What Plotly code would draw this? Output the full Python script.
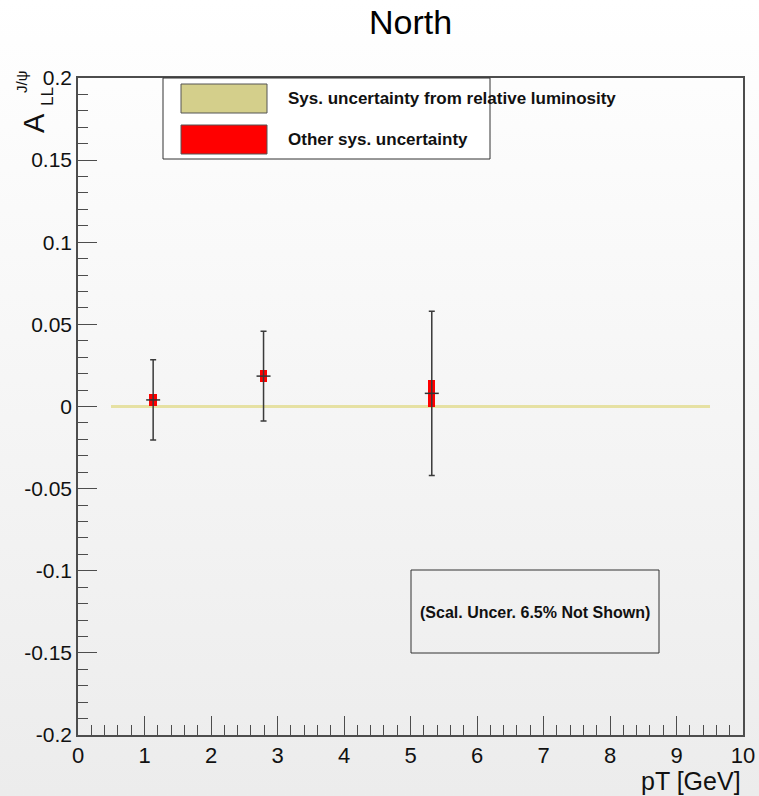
import base64
import plotly.graph_objects as go

# ---------------- data ----------------
pt = [1.13, 2.79, 5.32]                 # bin centres [GeV]
all_val = [0.004, 0.0185, 0.008]         # A_LL^{J/psi}
stat_err = [0.0244, 0.0273, 0.050]       # statistical errors
other_sys = [0.0037, 0.0037, 0.008]      # other systematic uncertainty (half width)
lumi_range = [0.5, 9.5]                  # pT extent of relative-luminosity band
lumi_sys = 0.0012                        # relative luminosity systematic (half width)

x_ticks = [0, 1, 2, 3, 4, 5, 6, 7, 8, 9, 10]
x_tick_labels = ["0", "1", "2", "3", "4", "5", "6", "7", "8", "9", "10"]
y_ticks = [-0.2, -0.15, -0.1, -0.05, 0, 0.05, 0.1, 0.15, 0.2]
y_tick_labels = ["-0.2", "-0.15", "-0.1", "-0.05", "0", "0.05", "0.1", "0.15", "0.2"]

legend_labels = ["Sys. uncertainty from relative luminosity", "Other sys. uncertainty"]
note_text = "(Scal. Uncer. 6.5% Not Shown)"
title_text = "North"

# ---------------- geometry helpers (pixels -> paper) ----------------
W, H = 759, 796
L, R, T, B = 78, 16, 78, 61
PW, PH = W - L - R, H - T - B


def px(x):
    return (x - L) / PW


def py(y):
    return 1 - (y - T) / PH


FONT = "Liberation Sans, Arial, Helvetica, sans-serif"
LUMI_COLOR = "#e6e1a3"
LUMI_LEG = "#d4cf8b"
RED = "#ff0000"
FRAME = "#4d4d4d"

fig = go.Figure()

# luminosity band
fig.add_trace(go.Bar(
    x=[(lumi_range[0] + lumi_range[1]) / 2],
    y=[2 * lumi_sys],
    base=[-lumi_sys],
    width=[lumi_range[1] - lumi_range[0]],
    marker=dict(color=LUMI_COLOR, line=dict(width=0)),
    showlegend=False, hoverinfo="skip",
))

# other systematics boxes
fig.add_trace(go.Bar(
    x=pt,
    y=[2 * s for s in other_sys],
    base=[v - s for v, s in zip(all_val, other_sys)],
    width=[0.11] * len(pt),
    marker=dict(color=RED, line=dict(width=0)),
    showlegend=False, hoverinfo="skip",
))

# points with statistical error bars
fig.add_trace(go.Scatter(
    x=pt, y=all_val, mode="markers",
    marker=dict(symbol="line-ew", size=10, line=dict(color="#333333", width=1.5)),
    error_y=dict(type="data", array=stat_err, visible=True,
                 color="#3a3a3a", thickness=1.5, width=3),
    showlegend=False,
))

# background gradient
svg = (
    f'<svg xmlns="http://www.w3.org/2000/svg" width="{W}" height="{H}" '
    f'viewBox="0 0 {W} {H}" preserveAspectRatio="none">'
    '<defs><linearGradient id="g" x1="0" y1="0" x2="0" y2="1">'
    '<stop offset="0" stop-color="#ffffff"/>'
    '<stop offset="1" stop-color="#ececec"/>'
    '</linearGradient></defs>'
    f'<rect x="0" y="0" width="{W}" height="{H}" fill="url(#g)"/></svg>'
)
src = "data:image/svg+xml;base64," + base64.b64encode(svg.encode()).decode()

shapes = [
    # legend frame
    dict(type="rect", xref="paper", yref="paper", x0=px(163), x1=px(490), y0=py(159), y1=py(78),
         fillcolor="white", line=dict(color="#333333", width=1), layer="above"),
    dict(type="rect", xref="paper", yref="paper", x0=px(181), x1=px(267), y0=py(113), y1=py(84),
         fillcolor=LUMI_LEG, line=dict(color="#555555", width=1), layer="above"),
    dict(type="rect", xref="paper", yref="paper", x0=px(181), x1=px(267), y0=py(154), y1=py(125),
         fillcolor=RED, line=dict(color="#555555", width=1), layer="above"),
    # note box
    dict(type="rect", xref="paper", yref="paper", x0=px(411), x1=px(659), y0=py(653), y1=py(570),
         fillcolor="rgba(0,0,0,0)", line=dict(color="#333333", width=1), layer="above"),
]

annotations = [
    dict(xref="paper", yref="paper", x=px(286), y=py(98.5), xanchor="left", yanchor="middle",
         text=f"<b>{legend_labels[0]}</b>", showarrow=False, font=dict(family=FONT, size=17, color="#111")),
    dict(xref="paper", yref="paper", x=px(286), y=py(139.5), xanchor="left", yanchor="middle",
         text=f"<b>{legend_labels[1]}</b>", showarrow=False, font=dict(family=FONT, size=17, color="#111")),
    dict(xref="paper", yref="paper", x=px(535), y=py(612), xanchor="center", yanchor="middle",
         text=f"<b>{note_text}</b>", showarrow=False, font=dict(family=FONT, size=16, color="#111")),
    # y axis title pieces
    dict(xref="paper", yref="paper", x=px(34), y=py(123), xanchor="center", yanchor="middle",
         text="A", textangle=-90, showarrow=False, font=dict(family=FONT, size=29, color="#111")),
    dict(xref="paper", yref="paper", x=px(48), y=py(97), xanchor="center", yanchor="middle",
         text="LL", textangle=-90, showarrow=False, font=dict(family=FONT, size=17, color="#111")),
    dict(xref="paper", yref="paper", x=px(21), y=py(82), xanchor="center", yanchor="middle",
         text="J/ψ", textangle=-90, showarrow=False, font=dict(family=FONT, size=15, color="#111")),
    # x axis title
    dict(xref="paper", yref="paper", x=1, y=py(781), xanchor="right", yanchor="middle",
         text="pT [GeV]", showarrow=False, font=dict(family=FONT, size=25, color="#111")),
]

fig.update_layout(
    width=W, height=H,
    margin=dict(l=L, r=R, t=T, b=B, autoexpand=False),
    paper_bgcolor="#f6f6f6",
    plot_bgcolor="rgba(0,0,0,0)",
    barmode="overlay",
    bargap=0,
    showlegend=False,
    title=dict(text=title_text, x=px(410.5), xref="paper", xanchor="center",
               y=1 - 22 / H, yanchor="middle", font=dict(family=FONT, size=34, color="#000")),
    font=dict(family=FONT, color="#111"),
    shapes=shapes,
    annotations=annotations,
    images=[dict(source=src, xref="paper", yref="paper", x=px(0), y=py(0),
                 sizex=W / PW, sizey=H / PH, xanchor="left", yanchor="top",
                 sizing="stretch", layer="below")],
)

fig.update_xaxes(
    range=[0, 10], tickvals=x_ticks, ticktext=x_tick_labels,
    ticks="inside", ticklen=19, tickwidth=1, tickcolor=FRAME,
    minor=dict(dtick=0.2, ticks="inside", ticklen=10, tickwidth=1, tickcolor=FRAME),
    showline=True, linecolor=FRAME, linewidth=1.5, mirror=True,
    showgrid=False, zeroline=False,
    tickfont=dict(family=FONT, size=22, color="#111"),
)
fig.update_yaxes(
    range=[-0.2, 0.2], tickvals=y_ticks, ticktext=y_tick_labels,
    ticks="inside", ticklen=19, tickwidth=1, tickcolor=FRAME,
    minor=dict(dtick=0.01, ticks="inside", ticklen=10, tickwidth=1, tickcolor=FRAME),
    showline=True, linecolor=FRAME, linewidth=1.5, mirror=True,
    showgrid=False, zeroline=False,
    tickfont=dict(family=FONT, size=21, color="#111"),
)

fig.write_html("out.html")
